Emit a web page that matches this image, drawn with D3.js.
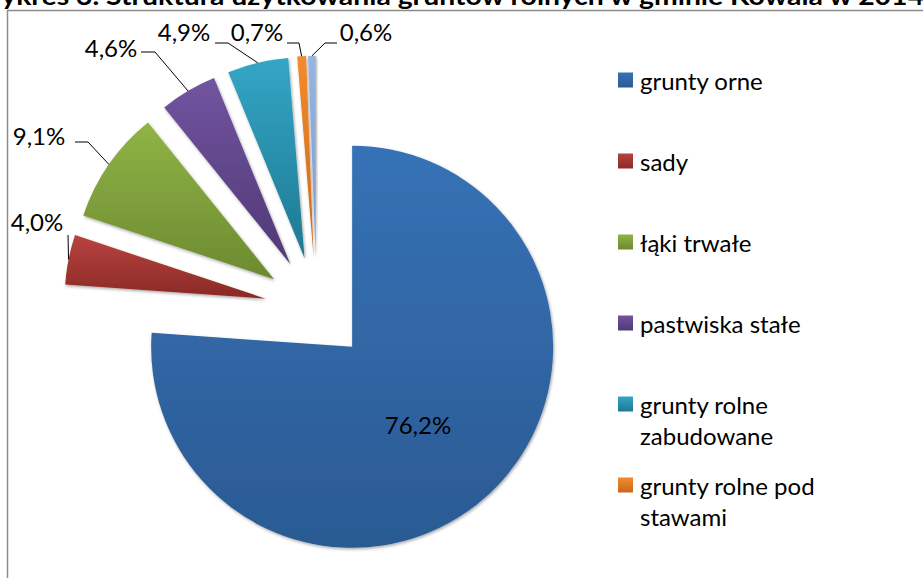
<!DOCTYPE html>
<html lang="pl">
<head>
<meta charset="utf-8">
<script src="https://cdn.jsdelivr.net/npm/d3@7/dist/d3.min.js"></script>
<style>
  html, body { margin: 0; padding: 0; background: #fff; }
  svg { display: block; }
  text { font-family: Lato, "Open Sans", "Liberation Sans", sans-serif; fill: #000; }
</style>
</head>
<body>
<svg id="chart" width="923" height="578"></svg>
<script>
// Struktura użytkowania gruntów rolnych (%)
const categories = [
  "grunty orne",
  "sady",
  "łąki trwałe",
  "pastwiska stałe",
  "grunty rolne zabudowane",
  "grunty rolne pod stawami",
  "grunty pod rowami"
];
const shares = [76.2, 4.0, 9.1, 4.6, 4.9, 0.7, 0.6];
const valueLabels = ["76,2%", "4,0%", "9,1%", "4,6%", "4,9%", "0,7%", "0,6%"];
// legend rows as wrapped in the legend box (last entry does not fit)
const legendLines = [
  ["grunty orne"],
  ["sady"],
  ["łąki trwałe"],
  ["pastwiska stałe"],
  ["grunty rolne", "zabudowane"],
  ["grunty rolne pod", "stawami"]
];
const titleText = "Wykres 3. Struktura użytkowania gruntów rolnych w gminie Kowala w 2014 r.";

// fills: [top, bottom] of each slice's vertical gradient
const palette = [
  ["#3572B6", "#2B5A93"],
  ["#B8433F", "#8A2926"],
  ["#90B446", "#6C8A30"],
  ["#7154A0", "#503975"],
  ["#33A6C6", "#1F7891"],
  ["#F28B2E", "#C9691B"],
  ["#98B4E0", "#7D9ACB"]
];

const svg = d3.select("#chart");
const defs = svg.append("defs");

palette.forEach((c, i) => {
  const g = defs.append("linearGradient")
    .attr("id", "grad" + i)
    .attr("x1", 0).attr("y1", 0).attr("x2", 0).attr("y2", 1);
  g.append("stop").attr("offset", "0%").attr("stop-color", c[0]);
  g.append("stop").attr("offset", "100%").attr("stop-color", c[1]);
});

const shadow = defs.append("filter").attr("id", "shadow")
  .attr("x", "-20%").attr("y", "-20%").attr("width", "140%").attr("height", "140%");
shadow.append("feDropShadow")
  .attr("dx", 1).attr("dy", 1.5).attr("stdDeviation", 1.6)
  .attr("flood-color", "#000").attr("flood-opacity", 0.35);

// title (runs past the top edge of the page)
svg.append("text")
  .attr("x", -28).attr("y", 5)
  .attr("font-size", 25)
  .attr("font-weight", 700)
  .attr("textLength", 975)
  .attr("lengthAdjust", "spacingAndGlyphs")
  .text(titleText);

// chart area frame
svg.append("rect")
  .attr("x", 7.5).attr("y", 10.5)
  .attr("width", 1000).attr("height", 700)
  .attr("fill", "none")
  .attr("stroke", "#8c8c8c")
  .attr("stroke-width", 1.5);

// pie geometry
const cx = 316.7, cy = 308.8;
const radius = 201;
const explode = 52;

const pie = d3.pie().sort(null).value(d => d).startAngle(0).endAngle(2 * Math.PI);
const arcs = pie(shares);
const arcGen = d3.arc().innerRadius(0).outerRadius(radius);
const mid = d => (d.startAngle + d.endAngle) / 2;

const gPie = svg.append("g").attr("transform", `translate(${cx},${cy})`);

gPie.selectAll("path.slice")
  .data(arcs)
  .join("path")
  .attr("class", "slice")
  .attr("d", arcGen)
  .attr("transform", d => {
    const [ox, oy] = d3.pointRadial(mid(d), explode);
    return `translate(${ox},${oy})`;
  })
  .attr("fill", (d, i) => `url(#grad${i})`)
  .attr("filter", "url(#shadow)");

// data labels: label centre and leader polyline (label side) for each slice
const labelLayout = [
  { pos: [418, 424], leader: null },
  { pos: [37, 221], leader: [[68, 235]] },
  { pos: [39, 135], leader: [[75, 142], [88, 142]] },
  { pos: [111, 47], leader: [[141, 52], [155, 52]] },
  { pos: [184, 31], leader: [[215, 43], [228, 43]] },
  { pos: [257, 31], leader: [[287, 43], [299, 43]] },
  { pos: [366, 31], leader: [[337, 43], [325, 43]] }
];

const gLabels = svg.append("g");
arcs.forEach((d, i) => {
  const lay = labelLayout[i];
  if (lay.leader) {
    const [ex, ey] = d3.pointRadial(mid(d), explode + radius);
    const pts = lay.leader.concat([[cx + ex, cy + ey]]);
    gLabels.append("path")
      .attr("d", d3.line()(pts))
      .attr("fill", "none")
      .attr("stroke", "#000")
      .attr("stroke-width", 1);
  }
  gLabels.append("text")
    .attr("x", lay.pos[0]).attr("y", lay.pos[1])
    .attr("text-anchor", "middle")
    .attr("dominant-baseline", "central")
    .attr("font-size", 24)
    .text(valueLabels[i]);
});

// legend
const legendRowY = d3.scalePoint()
  .domain(d3.range(legendLines.length))
  .range([80, 485]);

const gLegend = svg.append("g");
legendLines.forEach((lines, i) => {
  const y = legendRowY(i);
  gLegend.append("rect")
    .attr("x", 618).attr("y", y - 7.5)
    .attr("width", 15).attr("height", 15)
    .attr("fill", `url(#grad${i})`);
  lines.forEach((t, k) => {
    gLegend.append("text")
      .attr("x", 640).attr("y", y + k * 31)
      .attr("dominant-baseline", "central")
      .attr("font-size", 24)
      .text(t);
  });
});
</script>
</body>
</html>
